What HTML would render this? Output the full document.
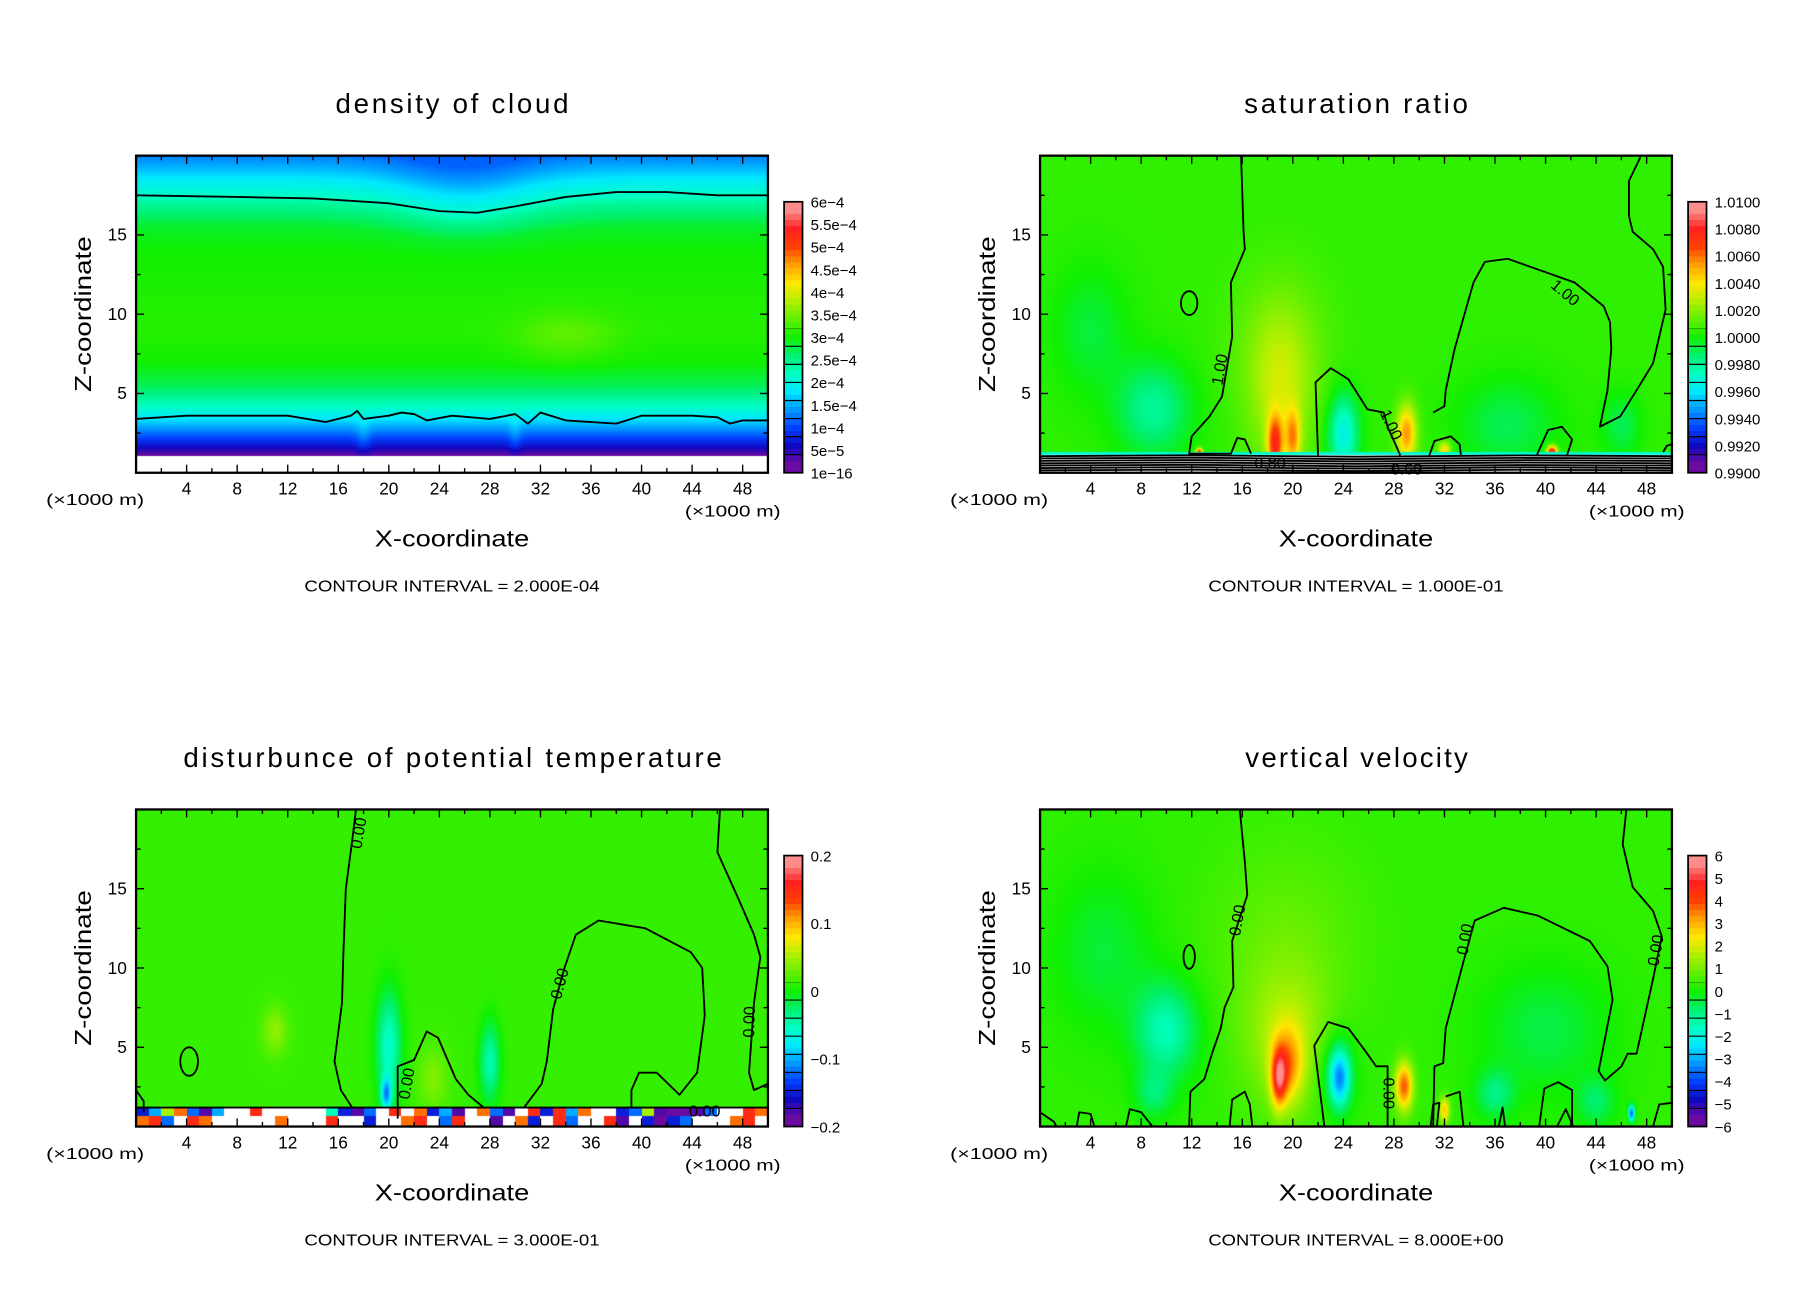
<!DOCTYPE html>
<html><head><meta charset="utf-8"><title>Cloud model fields</title>
<style>
html,body{margin:0;padding:0;background:#fff;}
#wrap{position:relative;width:1808px;height:1308px;overflow:hidden;background:#fff;}
canvas{position:absolute;}
svg{position:absolute;left:0;top:0;}
text{font-family:"Liberation Sans",sans-serif;fill:#000;}
</style></head>
<body>
<div id="wrap">
<canvas id="c0"></canvas>
<canvas id="c1"></canvas>
<canvas id="c2"></canvas>
<canvas id="c3"></canvas>
<svg id="svg" width="1808" height="1308" viewBox="0 0 1568 1134.37"></svg>
</div>
<script>
// ---------- data ----------
const xTicks = [4,8,12,16,20,24,28,32,36,40,44,48];
const zTicks = [5,10,15];
const titles = ["density of cloud","saturation ratio","disturbunce of potential temperature","vertical velocity"];
const titleSpans = [[291,493],[1079,1273],[159,626],[1080,1273]];
const intervals = ["CONTOUR INTERVAL = 2.000E-04","CONTOUR INTERVAL = 1.000E-01","CONTOUR INTERVAL = 3.000E-01","CONTOUR INTERVAL = 8.000E+00"];
const cbLabels0 = ["6e-4","5.5e-4","5e-4","4.5e-4","4e-4","3.5e-4","3e-4","2.5e-4","2e-4","1.5e-4","1e-4","5e-5","1e-16"];
const cbLabels1 = ["1.0100","1.0080","1.0060","1.0040","1.0020","1.0000","0.9980","0.9960","0.9940","0.9920","0.9900"];
const cbLabels2 = ["0.2","0.1","0","-0.1","-0.2"];
const cbLabels3 = ["6","5","4","3","2","1","0","-1","-2","-3","-4","-5","-6"];
const palette = ["#6a0aa0","#1008c0","#0040ff","#0098ff","#00e8ff","#00ffc0","#00f070","#10f000","#60f000","#b0f000","#ffe800","#ffa000","#ff4000","#ff2020","#ff8c8c"];

// density (units 1e-4)
const denWhiteZ = 1.1;
const denProfZ = [1.1,1.6,2.2,2.8,3.5,4.5,5.5,7,9,12,14,15.5,17,17.5,18.5,19.5,20.5];
const denProfV = [0.2,0.6,1.0,1.4,1.85,2.3,2.7,3.0,3.1,3.05,3.0,2.85,2.4,2.15,1.85,1.45,1.15];
const denDip = [26,6,1.2];
const denBlobs = [[34,8.6,4,1.6,0.3],[18,2.2,0.6,1.5,0.25],[30,2.2,0.5,1.4,0.25]];
const denContours = [
 [[0,17.5],[8,17.4],[14,17.3],[20,17],[24,16.5],[27,16.4],[30,16.8],[34,17.4],[38,17.7],[42,17.7],[46,17.5],[50,17.5]],
 [[0,3.4],[4,3.6],[8,3.6],[12,3.6],[15,3.2],[17,3.6],[17.5,3.9],[18,3.4],[20,3.6],[21,3.8],[22,3.7],[23,3.3],[25,3.6],[28,3.4],[30,3.7],[31,3.1],[32,3.8],[34,3.3],[36,3.2],[38,3.1],[40,3.6],[44,3.6],[46,3.5],[47,3.1],[48,3.3],[50,3.3]]
];
// saturation ratio (units 1e-3 offset from 1)
const satWhiteZ = 1.15;
const satBase = 0.5;
const satBlobs = [[19,5,2.5,5,2.0],[18.6,1.8,0.6,1.8,6],[20,2.2,0.6,1.8,4],[19,8,4,5,1],[29,2.5,0.8,1.8,5],[32,1.4,0.5,0.6,4],[40.5,1.3,0.4,0.4,9],[12.6,1.3,0.25,0.25,8],[24,2.5,1.2,2.5,-4],[9,4,3,3,-2.5],[4,9,3,4,-1.2],[37,3,4,3,-1.5],[46,3,1.5,2,-1.5]];
const satLines = [0.15,0.3,0.45,0.6,0.75,0.9,1.05];
const satContours = [
 [[15.9,20],[16.1,15.2],[16.2,14.1],[15.1,12],[15.2,8.6],[14.4,4.8],[13.4,3.55],[12,2.3],[11.8,1.2],[15.1,1.2],[15.6,2.2],[16.2,2.1],[16.7,1.2]],
 [[22,1.1],[21.8,5.7],[23,6.6],[24.4,5.9],[25.9,4.0],[27.2,3.8],[27.5,2.9],[28,2],[28.5,1.1]],
 [[30.8,1.1],[31.2,2],[32.5,2.3],[33.2,1.8],[33.3,1.1]],
 [[31.1,3.8],[32,4.2],[32.1,5.2],[32.8,7.8],[34.3,12],[35.2,13.3],[37,13.5],[42.3,12],[44.6,10.5],[45.1,9.5],[45.2,7.8],[44.9,5.2],[44.3,2.9],[45.9,3.55],[47.2,5.2],[48.5,6.9],[49.5,10.3],[49.3,13],[48.5,14.1],[46.9,15.2],[46.6,16.2],[46.6,18.4],[47.5,19.9]],
 [[39.3,1.1],[40.2,2.7],[41.3,2.9],[42.1,2.1],[41.7,1.1]],
 [[49.3,1.3],[49.6,1.7],[50,1.8]]
];
const satOvals = [[11.8,10.7,0.65,0.75]];
// theta
const thBase = 0.012;
const thBlobs = [[20,5,1,3.5,-0.07],[19.8,2,0.4,1,-0.1],[28,4,0.8,2.5,-0.06],[11,6,1,1.5,0.03],[23.5,3,1.2,2,0.025]];
const thBandUp = [-0.15,-0.1,0.05,0.12,-0.12,-0.18,-0.1,0.25,0.3,0.15,0.3,0.3,0.3,0.3,0.3,-0.05,-0.15,-0.18,-0.12,0.3,0.15,0.3,0.12,-0.15,-0.1,-0.18,0.3,0.12,-0.12,-0.18,0.3,0.15,-0.15,0.15,-0.1,0.12,0.3,0.3,-0.15,-0.12,0.05,-0.18,-0.2,-0.2,-0.18,-0.12,0.3,0.3,0.15,0.12];
const thBandLo = [0.12,0.15,-0.12,0.3,0.15,0.12,0.3,0.3,0.3,0.3,0.3,0.12,0.3,0.3,0.3,0.15,0.3,0.3,-0.15,0.3,0.3,0.12,0.15,0.3,-0.12,0.15,0.3,0.3,-0.18,0.3,0.12,-0.15,0.3,0.15,-0.12,0.3,0.3,0.15,-0.18,0.3,-0.15,-0.2,-0.15,-0.12,0.3,0.3,0.3,0.12,0.15,0.3];
const thContours = [
 [[17.4,20],[17.1,18],[16.6,15],[16.4,10.7],[16.3,7.8],[15.7,4.1],[16.2,2.3],[17.1,1.2]],
 [[20.7,0.5],[20.7,3.8],[22,4.2],[23,6],[23.9,5.6],[25.3,3],[26.3,2],[27.5,1.2]],
 [[30.7,1.2],[32.1,2.7],[32.5,4.1],[33,7.4],[33.9,10],[34.8,12.1],[36.6,13],[40.3,12.5],[43.9,11],[44.8,10],[45,7],[44.4,3.4],[43,2],[42.1,2.7],[41.2,3.4],[39.8,3.4],[39.2,2.3],[39.2,1.2]],
 [[46.2,20],[46,17.3],[47.7,14.3],[48.9,12.1],[49.4,10.7],[48.9,7.8],[48.5,3.4],[48.9,2.3],[50,2.7]],
 [[0,2.3],[0.6,1.6],[0.6,0.9]]
];
const thOvals = [[4.2,4.1,0.7,0.9]];
// vertical velocity (m/s)
const wBase = 0.3;
const wBlobs = [[18.9,3.0,0.6,1.8,3.2],[19.6,3.8,1.2,2.4,2.2],[19.5,5.5,3.5,4.5,1.2],[19.5,12,6,6,0.5],[23.7,3,0.8,1.8,-3],[23.5,3.5,1.6,2.5,-1],[28.8,2.5,0.7,1.5,3.5],[32,1,0.4,0.8,2.5],[10,6,2.5,3,-1.8],[9,2,1.5,1.5,-1],[5,11,4,5,-0.7],[40,6,5,4,-0.8],[36,2,1.5,1.5,-1.2],[46.8,0.8,0.25,0.5,-4],[44,1.5,1.5,1.5,-1]];
const wContours = [
 [[15.8,20],[16.2,16.7],[16.4,14.6],[15.2,11.7],[15.3,8.8],[14.6,7.5],[14.3,6.2],[13.6,4.6],[13,3],[11.9,2.2],[11.8,0]],
 [[15,0],[15.2,1.7],[16.2,2.2],[16.6,1.4],[16.8,0]],
 [[22.5,0],[21.7,5.1],[22.8,6.6],[24.4,6.2],[25.7,4.8],[26.6,3.8],[27.5,3.8],[27.5,0]],
 [[31.1,0],[31.2,3.8],[31.9,4],[32.1,6.2],[33.5,10.4],[34.4,13],[36.7,13.8],[39.4,13.3],[43.5,11.7],[44.9,10.1],[45.3,8],[44.2,3.5],[44.7,2.9],[46,3.8],[46.5,4.6],[47.2,4.6],[48.5,9.3],[49.2,12],[48.5,13.6],[46.9,15.1],[46.1,17.8],[46.4,20]],
 [[0,0.9],[1.1,0.3],[1.3,0]],
 [[2.9,0],[3.1,0.9],[4,0.8],[4.3,0]],
 [[6.8,0],[7.1,1.1],[8,0.9],[8.9,0]],
 [[30.9,0],[31.1,1.4],[31.6,1.5],[31.4,0]],
 [[32.1,1.9],[33.2,2.2],[33.5,0]],
 [[39.5,0],[39.9,2.4],[41,2.8],[42.1,2.3],[42.1,0]],
 [[40.9,0],[41.6,1.1],[42.2,0]],
 [[36.3,0],[36.6,1.2],[36.8,0]],
 [[48.5,0],[49,1.4],[50,1.5]]
];
const wOvals = [[11.8,10.7,0.45,0.75]];

// ---------- helpers ----------
const S = 1808/1568;
const NS = "http://www.w3.org/2000/svg";
const svg = document.getElementById('svg');
const offs = [[0,0],[784,0],[0,567],[784,567]];
const BX0=118, BX1=666, BY0=135, BY1=410;
function sx(p,v){return offs[p][0]+BX0+v*(BX1-BX0)/50;}
function sz(p,v){return offs[p][1]+BY1-v*(BY1-BY0)/20;}
function mk(tag,attrs,parent){const e=document.createElementNS(NS,tag);for(const k in attrs)e.setAttribute(k,attrs[k]);(parent||svg).appendChild(e);return e;}
function hex(c){return [parseInt(c.substr(1,2),16),parseInt(c.substr(3,2),16),parseInt(c.substr(5,2),16)];}
const palRGB = palette.map(hex);
function cmap(t){
  if(t===null) return [255,255,255];
  if(t>1.0) return [255,255,255];
  let p=t*15-0.5; if(p<0)p=0; if(p>14)p=14;
  const i=Math.floor(p), f=p-i, a=palRGB[i], b=palRGB[Math.min(14,i+1)];
  return [a[0]+(b[0]-a[0])*f,a[1]+(b[1]-a[1])*f,a[2]+(b[2]-a[2])*f];
}
function interp(xs,ys,x){if(x<=xs[0])return ys[0];for(let i=1;i<xs.length;i++){if(x<=xs[i]){const f=(x-xs[i-1])/(xs[i]-xs[i-1]);return ys[i-1]+(ys[i]-ys[i-1])*f;}}return ys[ys.length-1];}
function sq(a){return a*a;}
function gsum(bl,x,z){let s=0;for(const b of bl)s+=b[4]*Math.exp(-sq((x-b[0])/b[2])-sq((z-b[1])/b[3]));return s;}

const fields=[
 function(x,z){ if(z<denWhiteZ) return null;
   const w=Math.min(1,Math.max(0,(z-11)/5));
   const zz=z+denDip[2]*Math.exp(-sq((x-denDip[0])/denDip[1]))*w;
   const v=interp(denProfZ,denProfV,zz)+gsum(denBlobs,x,z); return Math.max(0,v)/6; },
 function(x,z){ if(z<satWhiteZ) return null; if(z<1.3) return 0.35;
   const v=satBase+gsum(satBlobs,x,z); return (v+10)/20; },
 function(x,z){ if(z<1.2){const i=Math.min(49,Math.floor(x)); const v=z<0.6?thBandLo[i]:thBandUp[i]; if(v>0.2) return null; return (v+0.2)/0.4;}
   const v=thBase+gsum(thBlobs,x,z); return (v+0.2)/0.4; },
 function(x,z){ const v=wBase+gsum(wBlobs,x,z); return (v+6)/12; }
];

// draw fields
for(let p=0;p<4;p++){
  const c=document.getElementById('c'+p);
  const L=(offs[p][0]+BX0)*S, T=(offs[p][1]+BY0)*S;
  const W=Math.round((BX1-BX0)*S), H=Math.round((BY1-BY0)*S);
  c.width=W;c.height=H;c.style.left=L+'px';c.style.top=T+'px';
  const ctx=c.getContext('2d');const img=ctx.createImageData(W,H);
  for(let j=0;j<H;j++){const z=20*(1-(j+0.5)/H);
    for(let i=0;i<W;i++){const x=50*(i+0.5)/W;
      const col=cmap(fields[p](x,z));const k=(j*W+i)*4;
      img.data[k]=col[0];img.data[k+1]=col[1];img.data[k+2]=col[2];img.data[k+3]=255;}}
  ctx.putImageData(img,0,0);
}

function polyline(p,pts,name){
  const d=pts.map(q=>sx(p,q[0]).toFixed(1)+','+sz(p,q[1]).toFixed(1)).join(' ');
  const e=mk('polyline',{points:d,fill:'none',stroke:'#000','stroke-width':1.6,'stroke-linejoin':'round'});
  
  
}
function oval(p,o,name){
  const e=mk('ellipse',{cx:sx(p,o[0]),cy:sz(p,o[1]),rx:o[2]*10.96,ry:o[3]*13.75,fill:'none',stroke:'#000','stroke-width':1.6});
  
  
}
function clabel(p,x,z,rot,txt){
  const X=sx(p,x),Y=sz(p,z);
  const e=mk('text',{x:X,y:Y,'font-size':14,'text-anchor':'middle','dominant-baseline':'middle',transform:'rotate('+rot+' '+X+' '+Y+')'});
  e.textContent=txt;
  
  
}

// contours
denContours.forEach(c=>polyline(0,c,'density-contour'));
satLines.forEach(z=>polyline(1,[[0,z],[12,z+0.05],[25,z-0.04],[38,z+0.04],[50,z]],'saturation-low-contour'));
satContours.forEach(c=>polyline(1,c,'saturation-contour'));
satOvals.forEach(o=>oval(1,o,'saturation-contour-oval'));
thContours.forEach(c=>polyline(2,c,'theta-contour'));
thOvals.forEach(o=>oval(2,o,'theta-contour-oval'));
wContours.forEach(c=>polyline(3,c,'w-contour'));
wOvals.forEach(o=>oval(3,o,'w-contour-oval'));
polyline(2,[[0,1.2],[50,1.2]],'theta-band-contour');
clabel(1,14.3,6.5,-80,'1.00');clabel(1,41.5,11.3,40,'1.00');clabel(1,27.7,3,65,'1.00');
clabel(1,18.2,0.55,0,'0.80');clabel(1,29,0.15,0,'0.60');
clabel(2,17.7,18.5,-80,'0.00');clabel(2,33.6,9,-75,'0.00');clabel(2,21.5,2.7,-80,'0.00');clabel(2,48.6,6.6,-88,'0.00');clabel(2,45,0.9,0,'0.00');
clabel(3,15.7,13,-80,'0.00');clabel(3,33.7,11.8,-80,'0.00');clabel(3,27.5,2.1,90,'0.00');clabel(3,48.8,11.1,-80,'0.00');

// axes, ticks, labels
for(let p=0;p<4;p++){
  const ox=offs[p][0], oy=offs[p][1];
  const box=mk('rect',{x:ox+BX0,y:oy+BY0,width:BX1-BX0,height:BY1-BY0,fill:'none',stroke:'#000','stroke-width':2});
  
  
  for(let v=2;v<50;v+=2){const X=sx(p,v),len=(v%4===0)?7:4;
    mk('line',{x1:X,x2:X,y1:oy+BY1,y2:oy+BY1-len,stroke:'#000','stroke-width':1.2});
    mk('line',{x1:X,x2:X,y1:oy+BY0,y2:oy+BY0+len,stroke:'#000','stroke-width':1.2});}
  for(let v=2.5;v<20;v+=2.5){const Y=sz(p,v),len=(v%5===0)?7:4;
    mk('line',{x1:ox+BX0,x2:ox+BX0+len,y1:Y,y2:Y,stroke:'#000','stroke-width':1.2});
    mk('line',{x1:ox+BX1,x2:ox+BX1-len,y1:Y,y2:Y,stroke:'#000','stroke-width':1.2});}
  xTicks.forEach(v=>{const tx=mk('text',{x:sx(p,v),y:oy+429,'font-size':15,'text-anchor':'middle'});tx.textContent=v;
    
    });
  zTicks.forEach(v=>{const tz=mk('text',{x:ox+110,y:sz(p,v)+5,'font-size':15,'text-anchor':'end'});tz.textContent=v;
    
    });
  let t=mk('text',{x:ox+40,y:oy+438,'font-size':14,textLength:85,lengthAdjust:'spacingAndGlyphs'});t.textContent='(×1000 m)';
  
  
  t=mk('text',{x:ox+594,y:oy+448,'font-size':14,textLength:83,lengthAdjust:'spacingAndGlyphs'});t.textContent='(×1000 m)';
  
  
  t=mk('text',{x:ox+325,y:oy+474,'font-size':20,textLength:134,lengthAdjust:'spacingAndGlyphs'});t.textContent='X-coordinate';
  
  
  t=mk('text',{x:0,y:0,'font-size':20,textLength:135,lengthAdjust:'spacingAndGlyphs',transform:'translate('+(ox+79)+','+(oy+340)+') rotate(-90)'});t.textContent='Z-coordinate';
  
  
  t=mk('text',{x:ox+264,y:oy+513,'font-size':14,textLength:256,lengthAdjust:'spacingAndGlyphs'});t.textContent=intervals[p];
  
  
  const ts=titleSpans[p];
  t=mk('text',{x:ts[0],y:oy+98,'font-size':24,textLength:ts[1]-ts[0],lengthAdjust:'spacing'});t.textContent=titles[p];
  
  
  // colorbar
  const labs=[cbLabels0,cbLabels1,cbLabels2,cbLabels3][p];
  const nseg=15, cx0=ox+680, cw=16, cy0=oy+175, ch=235;
  for(let k=0;k<nseg;k++){
    for(let s=0;s<3;s++){
      const tt=(k+(s+0.5)/3)/nseg, col=cmap(tt*0.999);
      const y=cy0+ch-(k+(s+1)/3)*ch/nseg;
      mk('rect',{x:cx0,y:y,width:cw,height:ch/nseg/3+0.3,fill:'rgb('+col.map(Math.round).join(',')+')'});}
    mk('line',{x1:cx0,x2:cx0+cw,y1:cy0+k*ch/nseg,y2:cy0+k*ch/nseg,stroke:'#000','stroke-width':1});
  }
  const cb=mk('rect',{x:cx0,y:cy0,width:cw,height:ch,fill:'none',stroke:'#000','stroke-width':1.5});
  
  
  labs.forEach((l,i)=>{const y=cy0+i*ch/(labs.length-1);
    const e=mk('text',{x:ox+703,y:y+5,'font-size':13});e.textContent=l.replace('-','−');
    
    });
}
</script>
</body></html>
